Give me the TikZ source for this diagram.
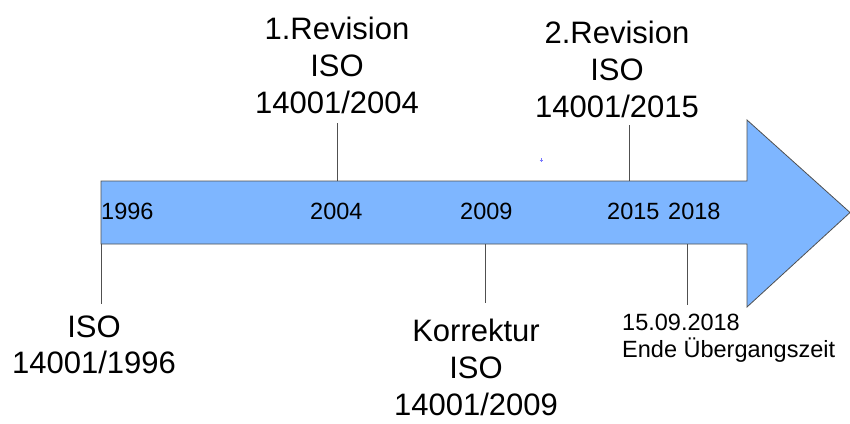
\documentclass[tikz,border=0pt]{standalone}
\usepackage{fontspec}
\setmainfont{Liberation Sans}
\definecolor{arrowblue}{RGB}{126,182,255}
\definecolor{edgegray}{RGB}{80,80,80}
\definecolor{markblue}{RGB}{120,120,255}
\begin{document}
\begin{tikzpicture}[x=1pt,y=-1pt,
  bigtext/.style={align=center,anchor=base,inner sep=0pt,font=\fontsize{31}{37}\selectfont},
  yeartext/.style={anchor=base west,inner sep=0pt,font=\fontsize{23.5}{28}\selectfont},
  smalltext/.style={align=left,anchor=base west,inner sep=0pt,font=\fontsize{23.5}{27}\selectfont},
  tick/.style={draw=edgegray,line width=0.8pt}]
\useasboundingbox (0,0) rectangle (850,423);

% timeline arrow
\draw[fill=arrowblue,draw=edgegray,line width=0.8pt,line join=miter]
  (101,181) -- (747,181) -- (747,120) -- (850,212.5) -- (747,307) -- (747,244) -- (101,244) -- cycle;

% years inside the arrow
\node[yeartext] (y1996) at (101,219) {1996};
\node[yeartext] (y2004) at (310,219) {2004};
\node[yeartext] (y2009) at (460,219) {2009};
\node[yeartext] (y2015) at (607,219) {2015};
\node[yeartext] (y2018) at (668,219) {2018};

% milestone descriptions (anchored at the baseline of their last line)
\node[bigtext] (rev1) at (337,113) {1.Revision\\ISO\\14001/2004};
\node[bigtext] (rev2) at (617,117) {2.Revision\\ISO\\14001/2015};
\node[bigtext,font=\fontsize{31}{36}\selectfont] (iso96) at (94,373) {ISO\\14001/1996};
\node[bigtext,font=\fontsize{31}{37}\selectfont] (korr) at (476,415) {Korrektur\\ISO\\14001/2009};
\node[smalltext] (ende) at (622,357) {15.09.2018\\Ende Übergangszeit};

% tick points on the arrow edges and free ends of the ticks
\coordinate (t1996) at (101,244);
\coordinate (e1996) at (101,304);
\coordinate (t2004) at (337,181);
\coordinate (e2004) at (337,123);
\coordinate (t2009) at (485,244);
\coordinate (e2009) at (485,303);
\coordinate (t2015) at (629,181);
\coordinate (e2015) at (629,125);
\coordinate (t2018) at (687,244);
\coordinate (e2018) at (687,305);

\draw[tick] (t1996) -- (e1996);
\draw[tick] (t2004) -- (e2004);
\draw[tick] (t2009) -- (e2009);
\draw[tick] (t2015) -- (e2015);
\draw[tick] (t2018) -- (e2018);

% small stray mark
\draw[markblue,line width=0.5pt] (539.5,160) -- (543,160) (541.2,158.3) -- (541.2,161.7);
\end{tikzpicture}
\end{document}
